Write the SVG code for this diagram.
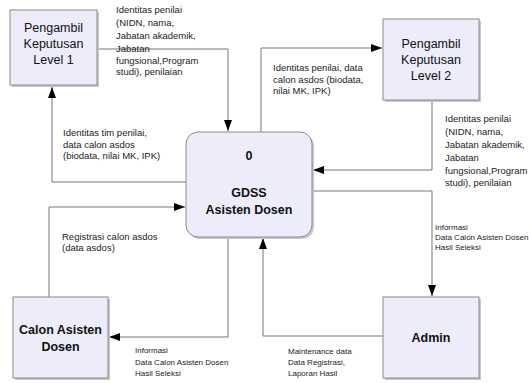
<svg xmlns="http://www.w3.org/2000/svg" width="529" height="383" viewBox="0 0 529 383">
<style>
.box{fill:#ececfa;stroke:#8a8a8a;stroke-width:1}
.shadow{fill:#c8c8c8}
.lbl{font-family:"Liberation Sans",Arial,sans-serif;font-size:12.5px;fill:#111;text-anchor:middle}
.b{font-weight:bold}
.t{font-family:"Liberation Sans",Arial,sans-serif;font-size:9.5px;fill:#222}
.s{font-family:"Liberation Sans",Arial,sans-serif;font-size:8px;fill:#222}
.c{fill:none;stroke:#777;stroke-width:1}
</style>
<defs>
<marker id="ah" markerUnits="userSpaceOnUse" markerWidth="11" markerHeight="8" refX="11" refY="4" orient="auto">
<path d="M0,0 L11,4 L0,8 z" fill="#000"/>
</marker>
</defs>
<rect width="529" height="383" fill="#fff"/>

<g id="connectors">
<path class="c" d="M97,49 H228 V131" marker-end="url(#ah)"/>
<path class="c" d="M261,132 V48 H382" marker-end="url(#ah)"/>
<path class="c" d="M186,182 H52 V87" marker-end="url(#ah)"/>
<path class="c" d="M49,297 V207 H185" marker-end="url(#ah)"/>
<path class="c" d="M228,237 V337 H109" marker-end="url(#ah)"/>
<path class="c" d="M383,336 H263 V238" marker-end="url(#ah)"/>
<path class="c" d="M432,100 V170 H313" marker-end="url(#ah)"/>
<path class="c" d="M312,191 H432 V296" marker-end="url(#ah)"/>
</g>

<g id="labels">
<text class="t" x="116" y="13">Identitas penilai</text>
<text class="t" x="116" y="26">(NIDN, nama,</text>
<text class="t" x="116" y="39">Jabatan akademik,</text>
<text class="t" x="116" y="52">Jabatan</text>
<text class="t" x="116" y="64">fungsional,Program</text>
<text class="t" x="116" y="75">studi), penilaian</text>

<text class="t" x="273" y="71">Identitas penilai, data</text>
<text class="t" x="273" y="83">calon asdos (biodata,</text>
<text class="t" x="273" y="94">nilai MK, IPK)</text>

<text class="t" x="63" y="136">Identitas tim penilai,</text>
<text class="t" x="63" y="148">data calon asdos</text>
<text class="t" x="63" y="159">(biodata, nilai MK, IPK)</text>

<text class="t" x="62" y="240">Registrasi calon asdos</text>
<text class="t" x="62" y="251">(data asdos)</text>

<text class="t" x="445" y="122">Identitas penilai</text>
<text class="t" x="445" y="135">(NIDN, nama,</text>
<text class="t" x="445" y="148">Jabatan akademik,</text>
<text class="t" x="445" y="161">Jabatan</text>
<text class="t" x="445" y="174">fungsional,Program</text>
<text class="t" x="445" y="186">studi), penilaian</text>

<text class="s" x="435" y="230">Informasi</text>
<text class="s" x="435" y="240">Data Calon Asisten Dosen</text>
<text class="s" x="435" y="250">Hasil Seleksi</text>

<text class="s" x="135" y="353">Informasi</text>
<text class="s" x="135" y="365">Data Calon Asisten Dosen</text>
<text class="s" x="135" y="376">Hasil Seleksi</text>

<text class="s" x="288" y="354">Maintenance data</text>
<text class="s" x="288" y="365">Data Registrasi,</text>
<text class="s" x="288" y="376">Laporan Hasil</text>
</g>

<g id="level1">
<rect class="shadow" x="12" y="12" width="87" height="75"/>
<rect class="box" x="10" y="10" width="87" height="75"/>
<text class="lbl" x="53.5" y="32">Pengambil</text>
<text class="lbl" x="53.5" y="48">Keputusan</text>
<text class="lbl" x="53.5" y="64">Level 1</text>
</g>

<g id="level2">
<rect class="shadow" x="385" y="21" width="96" height="81"/>
<rect class="box" x="383" y="19" width="96" height="81"/>
<text class="lbl" x="431" y="48">Pengambil</text>
<text class="lbl" x="431" y="64">Keputusan</text>
<text class="lbl" x="431" y="80">Level 2</text>
</g>

<g id="gdss">
<rect class="shadow" x="188" y="134" width="126" height="105" rx="12"/>
<rect class="box" x="186" y="132" width="126" height="105" rx="12"/>
<text class="lbl b" x="249" y="160">0</text>
<text class="lbl b" x="249" y="197">GDSS</text>
<text class="lbl b" x="249" y="214">Asisten Dosen</text>
</g>

<g id="calon">
<rect class="shadow" x="15" y="299" width="95" height="81"/>
<rect class="box" x="13" y="297" width="95" height="81"/>
<text class="lbl b" x="60.5" y="334">Calon Asisten</text>
<text class="lbl b" x="60.5" y="351">Dosen</text>
</g>

<g id="admin">
<rect class="shadow" x="385" y="299" width="96" height="81"/>
<rect class="box" x="383" y="297" width="96" height="81"/>
<text class="lbl b" x="431" y="342">Admin</text>
</g>
</svg>
